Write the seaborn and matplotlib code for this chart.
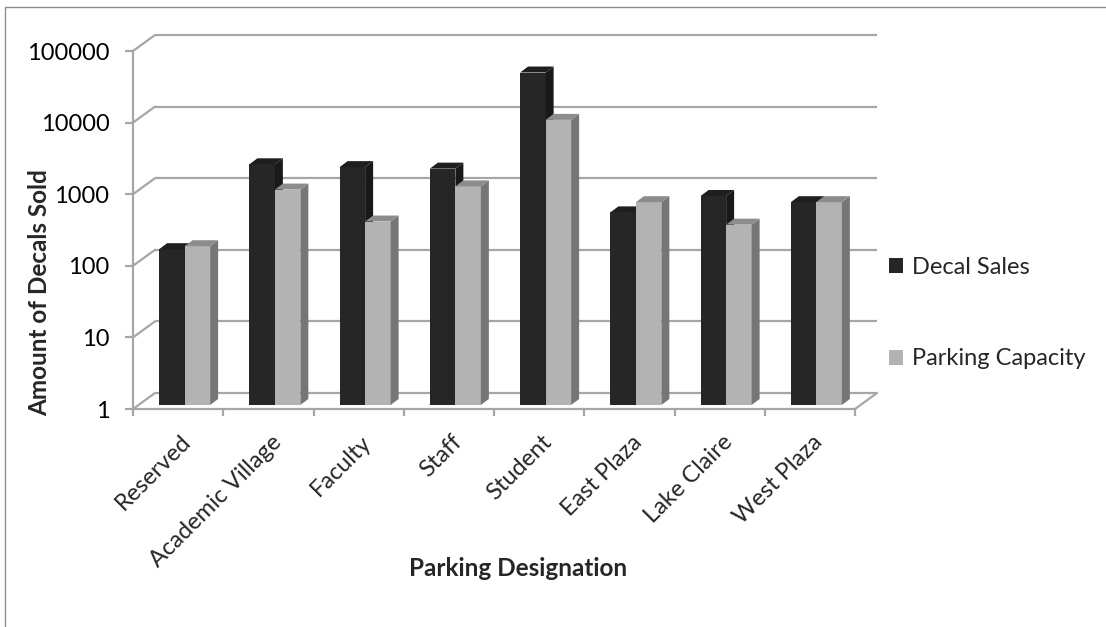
import numpy as np
import pandas as pd
import matplotlib
matplotlib.use("Agg")
import matplotlib.pyplot as plt
import seaborn as sns
from matplotlib.patches import Polygon, Rectangle
from matplotlib.lines import Line2D
from matplotlib.transforms import ScaledTranslation, IdentityTransform
from matplotlib.ticker import NullLocator, FixedLocator

# ---- data ----
categories = ["Reserved", "Academic Village", "Faculty", "Staff", "Student",
              "East Plaza", "Lake Claire", "West Plaza"]
decal_sales = [150, 2300, 2100, 2000, 44000, 490, 830, 680]
parking_capacity = [165, 1020, 365, 1130, 9600, 680, 330, 680]
series_names = ["Decal Sales", "Parking Capacity"]
y_ticks = [1, 10, 100, 1000, 10000, 100000]
y_tick_labels = ["1", "10", "100", "1000", "10000", "100000"]

df = pd.DataFrame({
    "designation": categories * 2,
    "amount": decal_sales + parking_capacity,
    "series": [series_names[0]] * len(categories) + [series_names[1]] * len(categories),
})

# ---- style ----
sns.set_theme(style="white")
plt.rcParams["font.family"] = ["Lato", "DejaVu Sans"]

W, H, DPI = 1106, 627, 100
GRID = "#a6a6a6"
DARK, LIGHT = "#262626", "#b3b3b3"
FS = 17
FS_TITLE = 17.5

fig = plt.figure(figsize=(W / DPI, H / DPI), dpi=DPI, facecolor="white")

# front plane of the 3-D box, in pixels
L, R, T, B = 133, 855, 51, 409
ax = fig.add_axes([L / W, 1 - B / H, (R - L) / W, (B - T) / H])
ax.set_yscale("log")

sns.barplot(data=df, x="designation", y="amount", hue="series",
            palette=[DARK, LIGHT], width=0.565, saturation=1,
            linewidth=0, errorbar=None, ax=ax)

ax.set_xlim(-0.5, len(categories) - 0.5)
ax.set_ylim(y_ticks[0], y_ticks[-1])
ax.set_facecolor("none")
ax.grid(False)

def px(dx, dy):
    return ScaledTranslation(dx / DPI, dy / DPI, fig.dpi_scale_trans)

# depth of the back wall and of the bars, in pixels
WALL_DX, WALL_DY = 22, 16
BAR_DX, BAR_DY = 6.5, 4
SIDE_DX, SIDE_DY = 8, 6

# back wall gridlines
for yv in y_ticks:
    ax.plot([-0.5, len(categories) - 0.5], [yv, yv], color=GRID, lw=1.6,
            transform=ax.transData + px(WALL_DX, WALL_DY), zorder=0.5,
            clip_on=False, solid_capstyle="butt")

# left wall connectors and right floor edge
for yv in y_ticks:
    x0, y0 = ax.transData.transform((-0.5, yv))
    ax.add_line(Line2D([x0, x0 + WALL_DX], [y0, y0 + WALL_DY], color=GRID,
                       lw=1.6, transform=IdentityTransform(), clip_on=False, zorder=0.5))
x0, y0 = ax.transData.transform((len(categories) - 0.5, y_ticks[0]))
ax.add_line(Line2D([x0, x0 + WALL_DX], [y0, y0 + WALL_DY], color=GRID,
                   lw=1.6, transform=IdentityTransform(), clip_on=False, zorder=0.5))

# bars: start at 1 on the log axis, shift into the box, add side and top faces
bar_trans = ax.transData + px(BAR_DX, BAR_DY)
faces = []
for level, container in enumerate(ax.containers):
    z = 2 + level
    for p in container:
        top = p.get_y() + p.get_height()
        p.set_y(y_ticks[0])
        p.set_height(top - y_ticks[0])
        p.set_transform(bar_trans)
        p.set_clip_on(False)
        p.set_zorder(z)
        fc = np.array(p.get_facecolor()[:3])
        (bx0, by0), (bx1, by1) = bar_trans.transform(
            [(p.get_x(), p.get_y()),
             (p.get_x() + p.get_width(), p.get_y() + p.get_height())])
        faces.append(Polygon([(bx1, by0), (bx1 + SIDE_DX, by0 + SIDE_DY),
                              (bx1 + SIDE_DX, by1 + SIDE_DY), (bx1, by1)],
                             closed=True, facecolor=fc * 0.66, edgecolor="none",
                             transform=IdentityTransform(), clip_on=False,
                             zorder=z + 0.1))
        faces.append(Polygon([(bx0, by1), (bx0 + SIDE_DX, by1 + SIDE_DY),
                              (bx1 + SIDE_DX, by1 + SIDE_DY), (bx1, by1)],
                             closed=True, facecolor=fc * 0.78, edgecolor="none",
                             transform=IdentityTransform(), clip_on=False,
                             zorder=z + 0.1))
for f in faces:
    ax.add_patch(f)

# spines = front edges of the box
for s in ["top", "right"]:
    ax.spines[s].set_visible(False)
for s in ["left", "bottom"]:
    ax.spines[s].set_color(GRID)
    ax.spines[s].set_linewidth(1.6)
    ax.spines[s].set_zorder(0.6)

# y axis ticks
ax.yaxis.set_major_locator(FixedLocator(y_ticks))
ax.yaxis.set_minor_locator(NullLocator())
ax.set_yticklabels(y_tick_labels)
ax.tick_params(axis="y", which="major", left=True, length=6, width=1.6,
               color=GRID, labelcolor="black", labelsize=FS, pad=11)

# x axis: labels at centres, tick marks at boundaries
n = len(categories)
ax.set_xticks(range(n))
ax.set_xticklabels(categories)
ax.xaxis.set_minor_locator(FixedLocator(np.arange(-0.5, n, 1.0)))
ax.tick_params(axis="x", which="major", bottom=True, length=0, labelsize=FS, pad=16)
ax.tick_params(axis="x", which="minor", bottom=True, length=5, width=1.6, color=GRID)
for lbl in ax.get_xticklabels():
    lbl.set_rotation(45)
    lbl.set_rotation_mode("anchor")
    lbl.set_ha("right")
    lbl.set_va("top")
    lbl.set_transform(lbl.get_transform() + px(2, 0))

# axis titles
ax.set_xlabel("Parking Designation", fontsize=FS_TITLE, fontweight="bold", va="center")
ax.xaxis.set_label_coords((518 - L) / (R - L), (B - 568) / (B - T))
ax.set_ylabel("Amount of Decals Sold", fontsize=FS_TITLE, fontweight="bold", va="center")
ax.yaxis.set_label_coords((40 - L) / (R - L), (B - 293) / (B - T))

# legend on the right
sns.move_legend(ax, loc="center left",
                bbox_to_anchor=(889 / W, 1 - 313 / H),
                bbox_transform=fig.transFigure,
                frameon=False, title=None, fontsize=FS,
                handlelength=0.6, handleheight=0.6, handletextpad=0.36,
                labelspacing=3.0, borderpad=0, borderaxespad=0)

# chart border
fig.add_artist(Rectangle((5 / W, -0.05), 1.2, 1 - 7 / H + 0.05,
                         transform=fig.transFigure, fill=False,
                         edgecolor="#8c8c8c", lw=1.0))

fig.savefig("out.png", dpi=DPI, facecolor="white")
